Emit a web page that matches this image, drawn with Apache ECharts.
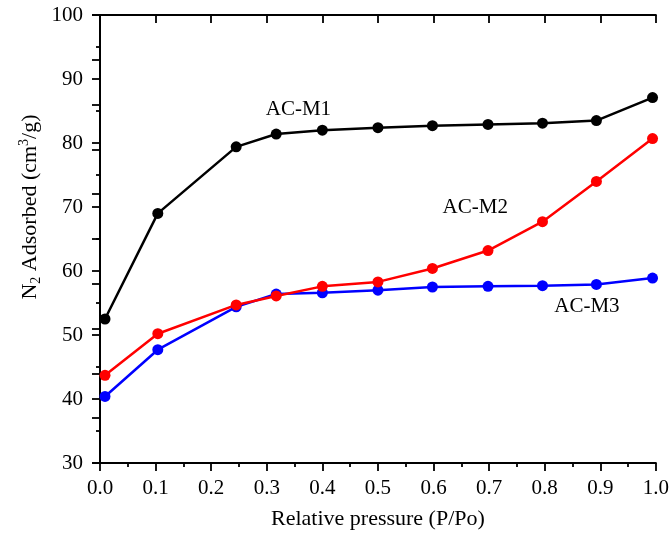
<!DOCTYPE html>
<html><head><meta charset="utf-8">
<script src="https://cdn.jsdelivr.net/npm/echarts@6/dist/echarts.min.js"></script>
<style>html,body{margin:0;padding:0;background:#fff}#c{width:672px;height:543px}</style>
</head><body><div id="c"></div>
<script>
const pressure = [0.009, 0.104, 0.245, 0.317, 0.40, 0.50, 0.598, 0.698, 0.796, 0.893, 0.994];
const acM1 = [52.5, 69.0, 79.4, 81.4, 82.0, 82.4, 82.7, 82.9, 83.1, 83.5, 87.1];
const acM2 = [43.7, 50.2, 54.7, 56.1, 57.6, 58.3, 60.4, 63.2, 67.7, 74.0, 80.7];
const acM3 = [40.4, 47.7, 54.4, 56.4, 56.6, 57.0, 57.5, 57.6, 57.7, 57.9, 58.9];
const seriesNames = ['AC-M1', 'AC-M2', 'AC-M3'];
const labelPos = [[0.357, 85.3], [0.675, 69.9], [0.876, 54.5]];
const colors = ['#000000', '#ff0000', '#0000ff'];
const xTitle = 'Relative pressure (P/Po)';
const font = 'Liberation Serif';

const chart = echarts.init(document.getElementById('c'), null, {renderer: 'canvas'});
const mk = (name, vals, i) => ({
  name, type: 'line', xAxisIndex: 0, yAxisIndex: 0,
  data: pressure.map((p, k) => [p, vals[k]]),
  symbol: 'circle', symbolSize: 11,
  lineStyle: {color: colors[i], width: 2.5},
  itemStyle: {color: colors[i]},
  z: 3 - i,
  markPoint: {
    symbol: 'circle', symbolSize: 0,
    label: {show: true, position: 'inside', formatter: name, color: '#000', fontFamily: font, fontSize: 21},
    data: [{coord: labelPos[i]}]
  }
});
const axLine = {show: true, lineStyle: {color: '#000', width: 2}};
chart.setOption({
  animation: false,
  grid: {left: 100, right: 16, top: 15, bottom: 80, containLabel: false},
  graphic: [{
    type: 'text', x: 30, y: 207, rotation: Math.PI / 2,
    style: {
      text: '{a|N}{s|2}{a| Adsorbed (cm}{p|3}{a|/g)}',
      align: 'center', verticalAlign: 'middle', fill: '#000',
      font: '22px "Liberation Serif"',
      rich: {
        a: {fontFamily: font, fontSize: 22, fill: '#000', verticalAlign: 'middle', lineHeight: 26},
        s: {fontFamily: font, fontSize: 14, fill: '#000', verticalAlign: 'bottom', lineHeight: 26},
        p: {fontFamily: font, fontSize: 14, fill: '#000', verticalAlign: 'top', lineHeight: 26}
      }
    }
  }],
  xAxis: [
    {type: 'value', min: 0, max: 1, interval: 0.1, position: 'bottom',
     axisLine: axLine,
     axisTick: {show: true, length: 8, inside: false, lineStyle: {color: '#000', width: 1.8}},
     minorTick: {show: true, splitNumber: 2, length: 4, lineStyle: {color: '#000', width: 1.8}},
     splitLine: {show: false},
     axisLabel: {formatter: v => v.toFixed(1), color: '#000', fontFamily: font, fontSize: 21, margin: 15},
     name: xTitle, nameLocation: 'middle', nameGap: 45,
     nameTextStyle: {color: '#000', fontFamily: font, fontSize: 22}},
    {type: 'value', min: 0, max: 1, interval: 0.1, position: 'top',
     axisLine: axLine,
     axisTick: {show: true, length: 8, inside: true, lineStyle: {color: '#000', width: 1.8}},
     splitLine: {show: false}, axisLabel: {show: false}}
  ],
  yAxis: [
    {type: 'value', min: 30, max: 100, interval: 10, position: 'left',
     axisLine: axLine,
     axisTick: {show: true, length: 8, inside: false, lineStyle: {color: '#000', width: 1.8}},
     minorTick: {show: true, splitNumber: 2, length: 4, lineStyle: {color: '#000', width: 1.8}},
     splitLine: {show: false},
     axisLabel: {color: '#000', fontFamily: font, fontSize: 21, margin: 17}},
    {type: 'value', min: 0, max: 10, interval: 1, position: 'right',
     axisLine: axLine,
     axisTick: {show: true, length: 8, inside: true, lineStyle: {color: '#000', width: 1.8}},
     splitLine: {show: false}, axisLabel: {show: false}}
  ],
  series: [mk(seriesNames[0], acM1, 0), mk(seriesNames[1], acM2, 1), mk(seriesNames[2], acM3, 2)]
});
</script></body></html>
